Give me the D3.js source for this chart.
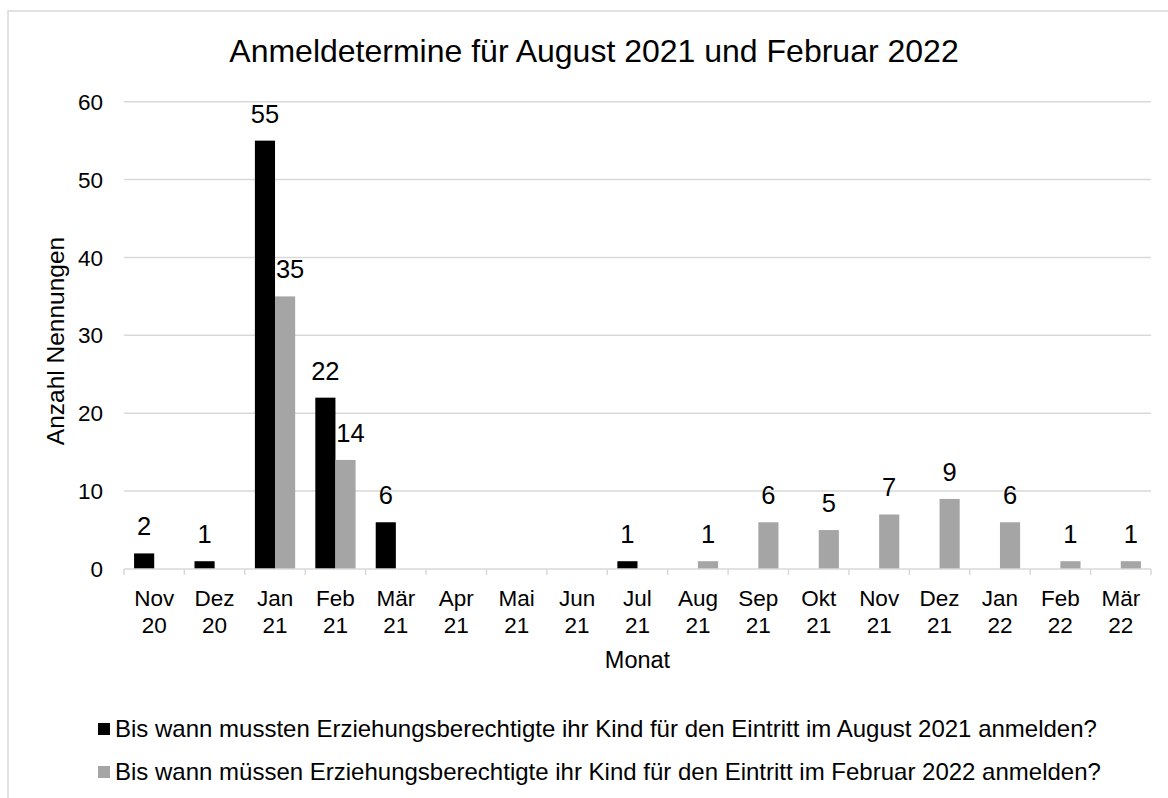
<!DOCTYPE html>
<html>
<head>
<meta charset="utf-8">
<script src="https://cdn.jsdelivr.net/npm/d3@7"></script>
<style>
  html, body { margin: 0; padding: 0; background: #fff; }
  svg { display: block; font-family: "Liberation Sans", Arial, sans-serif; }
</style>
</head>
<body>
<svg id="chart" width="1168" height="798"></svg>
<script>
// ---- data ----
const title = "Anmeldetermine für August 2021 und Februar 2022";
const months = ["Nov", "Dez", "Jan", "Feb", "Mär", "Apr", "Mai", "Jun", "Jul", "Aug", "Sep", "Okt", "Nov", "Dez", "Jan", "Feb", "Mär"];
const years  = ["20", "20", "21", "21", "21", "21", "21", "21", "21", "21", "21", "21", "21", "21", "22", "22", "22"];
const seriesNames = [
  "Bis wann mussten Erziehungsberechtigte ihr Kind für den Eintritt im August 2021 anmelden?",
  "Bis wann müssen Erziehungsberechtigte ihr Kind für den Eintritt im Februar 2022 anmelden?"
];
const august2021   = [2, 1, 55, 22, 6, 0, 0, 0, 1, 0, 0, 0, 0, 0, 0, 0, 0];
const februar2022  = [0, 0, 35, 14, 0, 0, 0, 0, 0, 1, 6, 5, 7, 9, 6, 1, 1];
const yTicks = [0, 10, 20, 30, 40, 50, 60];
const yTitle = "Anzahl Nennungen";
const xTitle = "Monat";
const colors = ["#000000", "#a5a5a5"];

// ---- layout ----
const svg = d3.select("#chart");
const plot = { left: 124, right: 1151, top: 101.7, bottom: 569 };
const gridColor = "#d9d9d9";

// border
svg.append("path")
  .attr("d", `M8,800 L8,11 L1170,11`)
  .attr("fill", "none").attr("stroke", gridColor).attr("stroke-width", 1.5);

const idx = d3.range(months.length);
const x0 = d3.scaleBand().domain(idx).range([plot.left, plot.right]).padding(0);
const x1 = d3.scaleBand().domain([0, 1]).range([0, x0.bandwidth()]).paddingInner(0).paddingOuter(0.5);
const y = d3.scaleLinear().domain([0, 60]).range([plot.bottom, plot.top]);

// gridlines
svg.append("g").selectAll("line").data(yTicks.filter(t => t > 0)).join("line")
  .attr("x1", plot.left).attr("x2", plot.right)
  .attr("y1", d => y(d)).attr("y2", d => y(d))
  .attr("stroke", gridColor).attr("stroke-width", 1.5);

// y tick labels
svg.append("g").selectAll("text").data(yTicks).join("text")
  .attr("x", 103).attr("y", d => y(d)).attr("dy", "0.36em")
  .attr("text-anchor", "end").attr("font-size", 22.5).attr("fill", "#000")
  .text(d => d);

// bars
const series = [august2021, februar2022];
series.forEach((vals, s) => {
  svg.append("g").selectAll("rect").data(idx.filter(i => vals[i] > 0)).join("rect")
    .attr("x", i => x0(i) + x1(s))
    .attr("width", x1.bandwidth())
    .attr("y", i => y(vals[i]))
    .attr("height", i => y(0) - y(vals[i]))
    .attr("fill", colors[s]);
});

// x axis line and ticks
svg.append("line")
  .attr("x1", plot.left).attr("x2", plot.right)
  .attr("y1", y(0)).attr("y2", y(0))
  .attr("stroke", gridColor).attr("stroke-width", 1.5);
const bounds = idx.map(i => x0(i)).concat([plot.right]);
svg.append("g").selectAll("line").data(bounds).join("line")
  .attr("x1", d => d).attr("x2", d => d)
  .attr("y1", y(0)).attr("y2", y(0) + 6)
  .attr("stroke", gridColor).attr("stroke-width", 1.5);

// x tick labels
const xl = svg.append("g").selectAll("text").data(idx).join("text")
  .attr("x", i => x0(i) + x0.bandwidth() / 2)
  .attr("text-anchor", "middle").attr("font-size", 22.5).attr("fill", "#000");
xl.append("tspan").attr("x", i => x0(i) + x0.bandwidth() / 2).attr("y", 606).text(i => months[i]);
xl.append("tspan").attr("x", i => x0(i) + x0.bandwidth() / 2).attr("y", 633).text(i => years[i]);

// data labels
series.forEach((vals, s) => {
  svg.append("g").selectAll("text").data(idx.filter(i => vals[i] > 0)).join("text")
    .attr("x", i => x0(i) + x1(s) + x1.bandwidth() / 2 + ((s === 1 && august2021[i] > 0) ? 5 : 0))
    .attr("y", i => y(vals[i]) - 18)
    .attr("text-anchor", "middle").attr("font-size", 25.5).attr("fill", "#000")
    .text(i => vals[i]);
});

// title
svg.append("text").attr("x", 594).attr("y", 62)
  .attr("text-anchor", "middle").attr("font-size", 32).attr("fill", "#000")
  .text(title);

// axis titles
svg.append("text").attr("x", (plot.left + plot.right) / 2).attr("y", 668)
  .attr("text-anchor", "middle").attr("font-size", 23.5).attr("fill", "#000")
  .text(xTitle);
svg.append("text").attr("transform", "translate(64,341) rotate(-90)")
  .attr("text-anchor", "middle").attr("font-size", 24.5).attr("fill", "#000")
  .text(yTitle);

// legend
const legendRows = [723, 766];
seriesNames.forEach((name, s) => {
  svg.append("rect").attr("x", 98).attr("y", legendRows[s]).attr("width", 12).attr("height", 12)
    .attr("fill", colors[s]);
  svg.append("text").attr("x", 115).attr("y", legendRows[s] + 13.5)
    .attr("font-size", 24).attr("fill", "#000").text(name);
});
</script>
</body>
</html>
